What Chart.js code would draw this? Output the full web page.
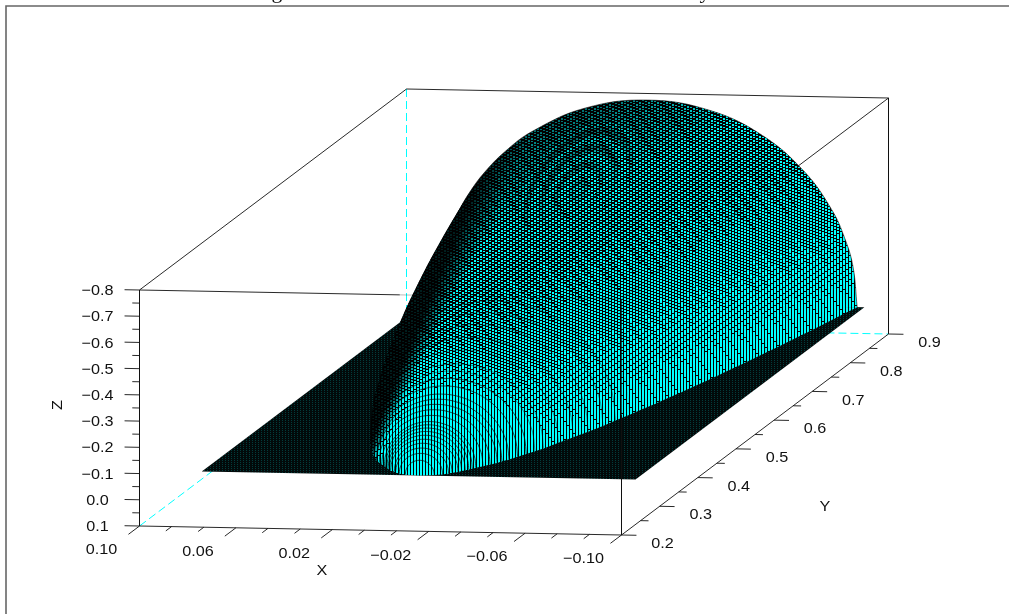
<!DOCTYPE html>
<html>
<head>
<meta charset="utf-8">
<style>
  html, body { margin: 0; padding: 0; background: #fff; }
  canvas { display: block; }
</style>
<script src="https://cdn.jsdelivr.net/npm/chart.js@4"></script>
</head>
<body>
<canvas id="chart" width="1009" height="614"></canvas>
<script>
// axis ticks
const xTicks = [0.10, 0.06, 0.02, -0.02, -0.06, -0.10];
const xLabels = ['0.10', '0.06', '0.02', '\u22120.02', '\u22120.06', '\u22120.10'];
const xMinorTicks = [0.0867, 0.0733, 0.0467, 0.0333, 0.0067, -0.0067, -0.0333, -0.0467, -0.0733, -0.0867];
const yTicks = [0.2, 0.3, 0.4, 0.5, 0.6, 0.7, 0.8, 0.9];
const yLabels = ['0.2', '0.3', '0.4', '0.5', '0.6', '0.7', '0.8', '0.9'];
const yMinorTicks = [0.25, 0.35, 0.45, 0.55, 0.65, 0.75, 0.85];
const zTicks = [-0.8, -0.7, -0.6, -0.5, -0.4, -0.3, -0.2, -0.1, 0.0, 0.1];
const zLabels = ['\u22120.8', '\u22120.7', '\u22120.6', '\u22120.5', '\u22120.4', '\u22120.3', '\u22120.2', '\u22120.1', '0.0', '0.1'];
const zMinorTicks = [-0.75, -0.65, -0.55, -0.45, -0.35, -0.25, -0.15, -0.05, 0.05];

// surface: at each Y station the half width of the
// dome base and the height of its crown (Z goes negative upwards)
const domeY = [0.303, 0.306, 0.309, 0.312, 0.315, 0.318, 0.321, 0.324, 0.327, 0.33, 0.336, 0.342,
  0.348, 0.354, 0.36, 0.37, 0.38, 0.39, 0.40, 0.42, 0.44, 0.46, 0.48, 0.50, 0.52, 0.54, 0.56, 0.58, 0.60, 0.62,
  0.64, 0.66, 0.68, 0.70, 0.72, 0.74, 0.76, 0.78, 0.80, 0.82, 0.84, 0.86, 0.88, 0.90];
const domeHalfWidth = [0.006, 0.009, 0.011, 0.012, 0.014, 0.015, 0.016, 0.017, 0.018, 0.019, 0.021, 0.023,
  0.025, 0.026, 0.028, 0.030, 0.032, 0.034, 0.036, 0.039, 0.042, 0.045, 0.048, 0.050, 0.0527, 0.055, 0.0573, 0.0594, 0.0615, 0.0635,
  0.0655, 0.0674, 0.0692, 0.071, 0.0728, 0.0745, 0.0762, 0.0778, 0.0794, 0.081, 0.0825, 0.084, 0.0855, 0.087];
const domeCrown = [0.055, 0.078, 0.095, 0.11, 0.122, 0.134, 0.145, 0.155, 0.164, 0.173, 0.19, 0.205,
  0.219, 0.232, 0.245, 0.265, 0.283, 0.30, 0.316, 0.347, 0.374, 0.40, 0.424, 0.447, 0.469, 0.49, 0.51, 0.529, 0.548, 0.566,
  0.583, 0.60, 0.617, 0.633, 0.648, 0.664, 0.679, 0.693, 0.707, 0.721, 0.735, 0.749, 0.762, 0.775];
// cross section shape, read from the end cap at Y = 0.9
const capX = [-1, -0.98, -0.94, -0.88, -0.75, -0.55, -0.3, 0, 0.3, 0.55, 0.68, 0.78, 0.85, 0.9, 0.94, 0.98, 1];
const capZ = [0, 0.2, 0.34, 0.475, 0.66, 0.835, 0.954, 1, 0.954, 0.835, 0.733, 0.626, 0.527, 0.436, 0.34, 0.2, 0];

// flat plate under the dome
const plateX = [0.09, -0.09];
const plateY = [0.3, 0.9];
const plateZ = 0;

// box limits
const xMax = 0.10, xMin = -0.10, yMin = 0.2, yMax = 0.9, zBottom = 0.1, zTop = -0.8;

// oblique view of the box, in page pixels
function project(X, Y, Z) {
  const u = (xMax - X) / (xMax - xMin);
  const v = (Y - yMin) / (yMax - yMin);
  const w = (zBottom - Z) / (zBottom - zTop);
  return { x: 139.5 + 482 * u + 267 * v, y: 526 + 9 * u - 201 * v - 236 * w };
}

function clamp01(v) { return Math.max(0, Math.min(1, v)); }

// fill textures standing in for the very fine mesh, style only
function domeTexture(ctx) {
  const rowRank = [0, 2, 4, 1, 3, 5];
  const c = document.createElement('canvas');
  c.width = 1009; c.height = 614;
  const g = c.getContext('2d');
  const img = g.createImageData(1009, 614);
  for (let y = 0; y < 614; y++) {
    for (let x = 0; x < 1009; x++) {
      let t = clamp01(((x - 480) * 0.45 + (y - 110)) / 350);
      const d = ((x - 370) * 240 + (y - 430) * 100) / 260;
      t *= clamp01((d - 4) / 30);
      // rings around the darkest patch of the dome
      const dx = x - 578, dy = y - 190;
      const a = (dx * 0.6 - dy * 0.8) / 1.6, b = dx * 0.8 + dy * 0.6;
      const r = Math.sqrt(a * a + b * b);
      if (r < 48) t = Math.max(0, t + 0.07 * Math.cos(r * Math.PI / 6));
      // how many rows of the 6 row lattice are lit, blocks grow on steep parts
      const col = Math.floor(x / 3);
      const pos = y + col * 2;
      const cell = Math.floor(pos / 6);
      const jitter = ((col * 7 + cell * 13) % 10) / 10 - 0.5;
      let n = 2.1 + 3.1 * Math.pow(t, 2.5) + jitter * 0.7;
      const tip = Math.hypot(x - 420, y - 473);
      n += 2.6 * clamp01((135 - tip) / 75) * clamp01(t * 4);
      const lit = (x % 3 < 2) && rowRank[pos % 6] < n;
      const lum = clamp01(0.12 + 2.4 * t);
      const i = (y * 1009 + x) * 4;
      img.data[i] = 0;
      img.data[i + 1] = lit ? 255 * lum : 0;
      img.data[i + 2] = lit ? 255 * lum : 0;
      img.data[i + 3] = 255;
    }
  }
  g.putImageData(img, 0, 0);
  return ctx.createPattern(c, 'no-repeat');
}

function plateTexture(ctx) {
  const c = document.createElement('canvas');
  c.width = 3; c.height = 2;
  const g = c.getContext('2d');
  g.fillStyle = '#010a0a';
  g.fillRect(0, 0, 3, 2);
  g.fillStyle = '#023c3c';
  g.fillRect(0, 0, 1, 1);
  return ctx.createPattern(c, 'repeat');
}

const canvas = document.getElementById('chart');
const ctx2d = canvas.getContext('2d');
const datasets = [];

function addLine(points, color, width, dash) {
  datasets.push({
    data: points, showLine: true, borderColor: color, borderWidth: width,
    borderDash: dash || [], pointRadius: 0, fill: false, tension: 0
  });
}

function edge(a, b, color, width, dash) {
  addLine([project(...a), project(...b)], color, width, dash);
}

// page frame, cut by the window on two sides
addLine([{ x: 6, y: 614 }, { x: 6, y: 6 }, { x: 1009, y: 6 }], '#666666', 1.6);

// hidden box edges
const dashCyan = [8, 4];
edge([xMax, yMin, zBottom], [xMax, yMax, zBottom], '#00ffff', 1, dashCyan);
edge([xMax, yMax, zBottom], [xMax, yMax, zTop], '#00ffff', 1, dashCyan);
edge([xMax, yMax, zBottom], [xMin, yMax, zBottom], '#00ffff', 1, dashCyan);

// back box edges
edge([xMax, yMin, zTop], [xMax, yMax, zTop], '#111', 0.9);
edge([xMax, yMax, zTop], [xMin, yMax, zTop], '#111', 0.9);
edge([xMin, yMax, zTop], [xMin, yMax, zBottom], '#111', 0.9);

// plate
const plateFill = plateTexture(ctx2d);
datasets.push({
  data: [
    project(plateX[0], plateY[0], plateZ), project(plateX[1], plateY[0], plateZ),
    project(plateX[1], plateY[1], plateZ), project(plateX[0], plateY[1], plateZ)
  ],
  showLine: true, borderWidth: 0, borderColor: 'rgba(0,0,0,0)', backgroundColor: plateFill,
  pointRadius: 0, fill: 'shape', tension: 0
});

// footprint of the dome on the plate, it closes the steps between the rows
const domeFill = domeTexture(ctx2d);
const rim = [project(0, plateY[0], plateZ)];
domeY.forEach((y, j) => rim.push(project(-domeHalfWidth[j], y, plateZ)));
domeY.slice().reverse().forEach((y, j) => rim.push(project(domeHalfWidth[domeY.length - 1 - j], y, plateZ)));
datasets.push({
  data: rim, showLine: true, borderWidth: 0, borderColor: 'rgba(0,0,0,0)', backgroundColor: domeFill,
  pointRadius: 0, fill: 'shape', tension: 0
});

// dome, far rows first so the nearer rows paint over them
for (let j = domeY.length - 1; j >= 0; j--) {
  const pts = capX.map((f, i) => project(f * domeHalfWidth[j], domeY[j], -capZ[i] * domeCrown[j]));
  let rowColor = 'rgba(0,0,0,0.85)';
  if (domeY[j] > 0.5) rowColor = 'rgba(0,0,0,0.12)';
  else if (domeY[j] > 0.38) rowColor = 'rgba(0,0,0,0.5)';
  datasets.push({
    data: pts, showLine: true, backgroundColor: domeFill,
    borderColor: j === domeY.length - 1 ? 'rgba(0,0,0,0.7)' : rowColor, borderWidth: 0.8,
    pointRadius: 0, fill: 'shape', tension: 0.4
  });
}

// front box edges go over the surface, fainter where they cross it
const overSurface = 'rgba(0,0,0,0.3)';
edge([xMax, yMin, zTop], [-0.008, yMin, zTop], '#111', 0.9);
edge([-0.008, yMin, zTop], [xMin, yMin, zTop], overSurface, 0.9);
edge([xMin, yMin, zTop], [xMin, 0.661, zTop], overSurface, 0.9);
edge([xMin, 0.661, zTop], [xMin, yMax, zTop], '#111', 0.9);
edge([xMin, yMin, zTop], [xMin, yMin, -0.357], overSurface, 0.9);
edge([xMin, yMin, -0.357], [xMin, yMin, zBottom], '#111', 0.9);
edge([xMax, yMin, zTop], [xMax, yMin, zBottom], '#111', 0.9);
edge([xMax, yMin, zBottom], [xMin, yMin, zBottom], '#111', 0.9);
edge([xMin, yMin, zBottom], [xMin, yMax, zBottom], '#111', 0.9);

// ticks
xTicks.forEach(v => edge([v, yMin, zBottom], [v, yMin - 0.029, zBottom], '#111', 0.9));
xMinorTicks.forEach(v => edge([v, yMin, zBottom], [v, yMin - 0.015, zBottom], '#111', 0.9));
yTicks.forEach(v => edge([xMin, v, zBottom], [xMin - 0.0062, v, zBottom], '#111', 0.9));
yMinorTicks.forEach(v => edge([xMin, v, zBottom], [xMin - 0.0033, v, zBottom], '#111', 0.9));
zTicks.forEach(v => edge([xMax, yMin, v], [xMax + 0.0062, yMin, v], '#111', 0.9));
zMinorTicks.forEach(v => edge([xMax, yMin, v], [xMax + 0.003, yMin, v], '#111', 0.9));

// first dataset in the list is painted first
datasets.forEach((d, i) => { d.order = datasets.length - i; });

function putText(chart, text, px, py, font, rotate) {
  const c = chart.ctx;
  const sx = chart.scales.x, sy = chart.scales.y;
  c.save();
  c.translate(sx.getPixelForValue(px), sy.getPixelForValue(py));
  if (rotate) c.rotate(rotate);
  c.scale(1.08, 1);
  c.font = font;
  c.fillStyle = '#111';
  c.textAlign = 'center';
  c.textBaseline = 'middle';
  c.fillText(text, 0, 0);
  c.restore();
}

const axisText = {
  id: 'axisText',
  afterDraw(chart) {
    const font = '15px "Liberation Sans"';
    xTicks.forEach((v, i) => {
      const p = project(v, yMin, zBottom);
      putText(chart, xLabels[i], p.x - 38, p.y + 24, font);
    });
    yTicks.forEach((v, i) => {
      const p = project(xMin, v, zBottom);
      putText(chart, yLabels[i], p.x + 41, p.y + 9, font);
    });
    zTicks.forEach((v, i) => {
      const p = project(xMax, yMin, v);
      putText(chart, zLabels[i], 97.5, p.y + 1, font);
    });
    putText(chart, 'X', 322, 571, font);
    putText(chart, 'Y', 825, 507, font);
    putText(chart, 'Z', 58, 405, font, -Math.PI / 2);
    // caption above the frame, cut off by the window
    const serif = '20px "Liberation Serif"';
    putText(chart, 'g', 277, -7, serif);
    putText(chart, 'y', 705, -7, serif);
  }
};

new Chart(canvas, {
  type: 'scatter',
  data: { datasets },
  options: {
    responsive: false,
    animation: false,
    layout: { padding: 0 },
    plugins: { legend: { display: false }, tooltip: { enabled: false } },
    scales: {
      x: { type: 'linear', display: false, min: 0, max: 1009 },
      y: { type: 'linear', display: false, min: 0, max: 614, reverse: true }
    }
  },
  plugins: [axisText]
});
</script>
</body>
</html>
